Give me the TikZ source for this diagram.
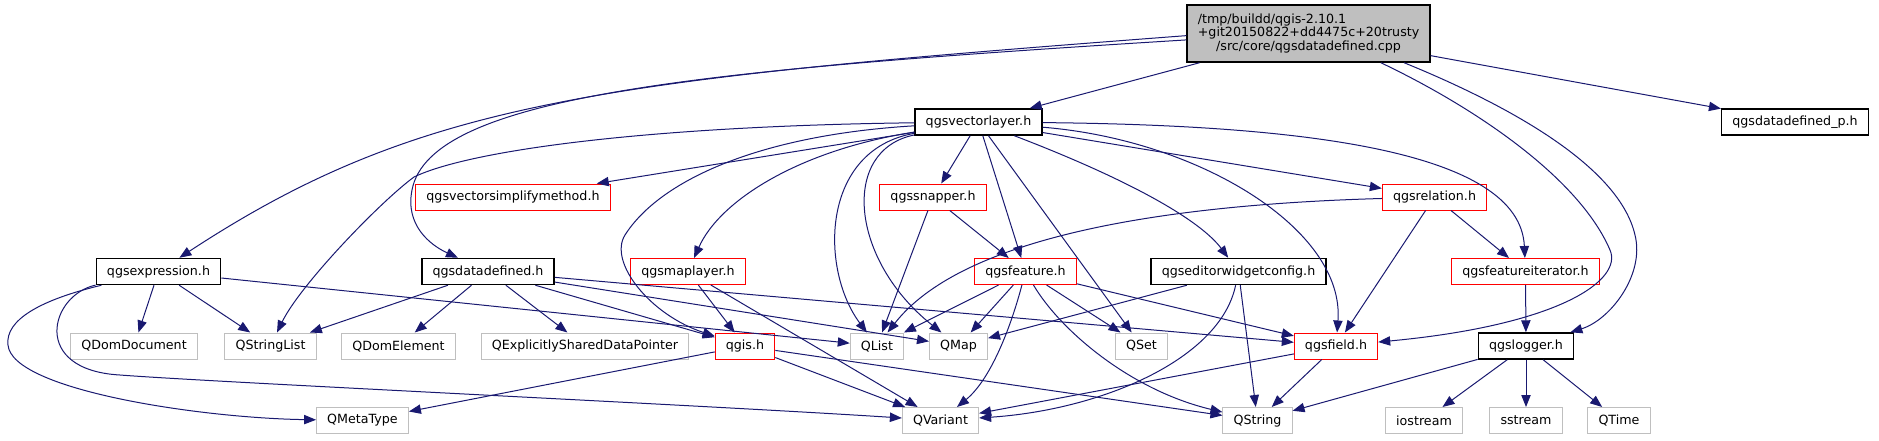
\documentclass[tikz,border=0pt]{standalone}
\usepackage{fontspec}
\setmainfont{DejaVu Sans}
\usetikzlibrary{arrows.meta}
\definecolor{edgecol}{HTML}{191970}
\definecolor{redb}{HTML}{FF0000}
\definecolor{greyb}{HTML}{BFBFBF}
\tikzset{
  box/.style={draw, line width=0.75pt, fill=white, inner xsep=8pt, inner ysep=2pt,
    minimum height=19.5pt, font=\fontsize{9.5}{10.2}\selectfont},
  docbox/.style={box, draw=black, line width=1.1pt},
  redbox/.style={box, draw=redb},
  extbox/.style={box, draw=greyb},
  dep/.style={draw=edgecol, line width=0.75pt, -{Triangle[length=9pt,width=7pt]}}
}
\begin{document}
\begin{tikzpicture}[x=0.75pt, y=-0.75pt]
\useasboundingbox (0,0) rectangle (1879,440);
% row 0
\node[docbox, fill=greyb, text width=166pt, align=center, minimum height=42.75pt] (top) at (1308.5,33.5)
  {\makebox[166pt][l]{/tmp/buildd/qgis-2.10.1}\\+git20150822+dd4475c+20trusty\\/src/core/qgsdatadefined.cpp};
% row 1
\node[docbox] (vl) at (978.5,122) {qgsvectorlayer.h};
\node[docbox] (dp) at (1795,122) {qgsdatadefined\_p.h};
% row 2
\node[redbox] (vsm) at (513,197) {qgsvectorsimplifymethod.h};
\node[redbox] (snap) at (933,197) {qgssnapper.h};
\node[redbox] (rel) at (1434.5,197) {qgsrelation.h};
% row 3
\node[docbox] (exp) at (158.5,271.5) {qgsexpression.h};
\node[docbox] (dd) at (488,271.5) {qgsdatadefined.h};
\node[redbox] (ml) at (688,271.5) {qgsmaplayer.h};
\node[redbox] (feat) at (1025.5,271.5) {qgsfeature.h};
\node[docbox] (ewc) at (1238.5,271.5) {qgseditorwidgetconfig.h};
\node[redbox] (fi) at (1525.5,271.5) {qgsfeatureiterator.h};
% row 4
\node[extbox] (qdd) at (134,346) {QDomDocument};
\node[extbox] (qsl) at (270.5,346) {QStringList};
\node[extbox] (qde) at (398.5,346) {QDomElement};
\node[extbox] (qesdp) at (585,346) {QExplicitlySharedDataPointer};
\node[redbox] (qgis) at (745,346) {qgis.h};
\node[extbox] (qlist) at (877,346) {QList};
\node[extbox] (qmap) at (958.5,346) {QMap};
\node[extbox] (qset) at (1141.5,346) {QSet};
\node[redbox] (field) at (1336,346) {qgsfield.h};
\node[docbox] (logger) at (1526,346) {qgslogger.h};
% row 5
\node[extbox] (qmt) at (362.5,420.5) {QMetaType};
\node[extbox] (qvar) at (940.5,420.5) {QVariant};
\node[extbox] (qstr) at (1257.5,420.5) {QString};
\node[extbox] (ios) at (1424,420.5) {iostream};
\node[extbox] (sst) at (1526,420.5) {sstream};
\node[extbox] (qtime) at (1619,420.5) {QTime};

% edges from top
\draw[dep] (top) -- (vl);
\draw[dep] (top) -- (dp);
\draw[dep] (top.181) .. controls (600,80) and (420,100) .. (exp);
\draw[dep] (top.183) .. controls (700,70) and (430,95) .. (412,190) .. controls (405,225) and (430,245) .. (dd);
\draw[dep] (top.338) .. controls (1480,110) and (1580,180) .. (1610,250) .. controls (1623,280) and (1560,325) .. (field);
\draw[dep] (top.343) .. controls (1520,110) and (1620,170) .. (1635,235) .. controls (1645,275) and (1610,320) .. (logger);

% edges from qgsvectorlayer.h
\draw[dep] (vl) -- (vsm);
\draw[dep] (vl) -- (snap);
\draw[dep] (vl) -- (rel);
\draw[dep] (vl) -- (feat);
\draw[dep] (vl) -- (qset);
\draw[dep] (vl) .. controls (1130,180) and (1200,220) .. (ewc);
\draw[dep] (vl) .. controls (1200,140) and (1345,230) .. (field);
\draw[dep] (vl) .. controls (1300,125) and (1520,150) .. (fi);
\draw[dep] (vl) .. controls (650,126) and (470,150) .. (414,177) .. controls (380,202) and (300,285) .. (qsl);
\draw[dep] (vl) .. controls (760,135) and (660,180) .. (625,235) .. controls (608,262) and (650,315) .. (qgis);
\draw[dep] (vl) .. controls (800,150) and (720,200) .. (ml);
\draw[dep] (vl) .. controls (820,150) and (820,270) .. (qlist);
\draw[dep] (vl) .. controls (840,150) and (850,260) .. (qmap);

% row 2 edges
\draw[dep] (snap) -- (feat);
\draw[dep] (snap) -- (qlist);
\draw[dep] (rel) -- (fi);
\draw[dep] (rel) -- (field);
\draw[dep] (rel) .. controls (1150,205) and (960,240) .. (qlist);

% qgsexpression.h
\draw[dep] (exp) -- (qdd);
\draw[dep] (exp) -- (qsl);
\draw[dep] (exp) -- (qlist);
\draw[dep] (exp) .. controls (40,300) and (5,320) .. (8,345) .. controls (12,390) and (200,418) .. (qmt);
\draw[dep] (exp) .. controls (50,295) and (30,370) .. (120,375) .. controls (210,382) and (700,405) .. (qvar);

% qgsdatadefined.h
\draw[dep] (dd) -- (qsl);
\draw[dep] (dd) -- (qde);
\draw[dep] (dd) -- (qesdp);
\draw[dep] (dd) -- (qgis);
\draw[dep] (dd) -- (qmap);
\draw[dep] (dd) -- (field);

% qgsmaplayer.h
\draw[dep] (ml) -- (qgis);
\draw[dep] (ml) -- (qvar);

% qgis.h
\draw[dep] (qgis) -- (qmt);
\draw[dep] (qgis) -- (qvar);
\draw[dep] (qgis) -- (qstr);

% qgsfeature.h
\draw[dep] (feat) -- (qlist);
\draw[dep] (feat) -- (qmap);
\draw[dep] (feat) .. controls (1010,330) and (990,380) .. (qvar);
\draw[dep] (feat) .. controls (1060,330) and (1130,390) .. (qstr);
\draw[dep] (feat) -- (qset);
\draw[dep] (feat) -- (field);

% qgseditorwidgetconfig.h
\draw[dep] (ewc) -- (qmap);
\draw[dep] (ewc) .. controls (1220,360) and (1100,410) .. (qvar);
\draw[dep] (ewc) -- (qstr);

% qgsfield.h
\draw[dep] (field) -- (qvar);
\draw[dep] (field) -- (qstr);

% qgsfeatureiterator.h / qgslogger.h
\draw[dep] (fi) -- (logger);
\draw[dep] (logger) -- (qstr);
\draw[dep] (logger) -- (ios);
\draw[dep] (logger) -- (sst);
\draw[dep] (logger) -- (qtime);
\end{tikzpicture}
\end{document}
